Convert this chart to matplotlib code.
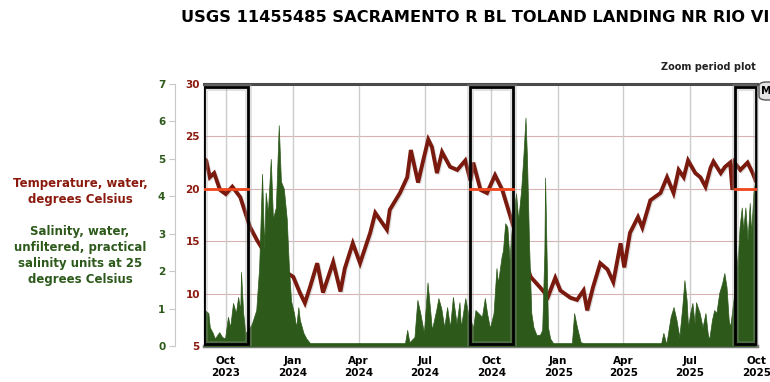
import numpy as np
import matplotlib
matplotlib.use('Agg')
import matplotlib.pyplot as plt
import matplotlib.dates as mdates
from matplotlib.patches import Rectangle, FancyBboxPatch
from matplotlib import patheffects as pe

# values, days counted from 2023-09-01
start = np.datetime64('2023-09-01')

temp_day = [0, 3, 8, 14, 22, 30, 39, 50, 57, 63, 73, 81, 91, 105, 114, 123, 132, 139, 146,
            156, 164, 178, 188, 194, 205, 215, 229, 236, 243, 252, 256, 270, 280, 285, 295,
            302, 309, 314, 321, 328, 339, 349, 360, 367, 371, 381, 390, 401, 411, 418, 425,
            433, 441, 450, 463, 474, 484, 491, 505, 514, 523, 528, 536, 546, 556, 564, 574,
            579, 587, 598, 604, 615, 629, 638, 647, 654, 661, 667, 677, 684, 691, 698, 702,
            712, 718, 725, 728, 731, 739, 749, 756, 760]
temp_val = [22.9, 22.7, 21.1, 21.5, 19.9, 19.5, 20.2, 19.2, 17.7, 16.4, 15.1, 14.2, 13.5,
            12.8, 12.0, 11.6, 10.1, 9.1, 10.6, 12.9, 10.1, 13.0, 10.2, 12.4, 14.8, 12.9,
            15.8, 17.7, 17.0, 16.1, 18.0, 19.6, 21.1, 23.7, 20.6, 22.7, 24.7, 24.0, 21.5,
            23.5, 22.1, 21.8, 22.7, 20.8, 22.5, 19.9, 19.6, 21.3, 19.9, 18.3, 16.7, 15.0,
            13.4, 11.6, 10.6, 9.7, 11.5, 10.3, 9.6, 9.4, 10.3, 8.4, 10.6, 12.9, 12.3, 11.1,
            14.8, 12.5, 15.8, 17.3, 16.3, 18.9, 19.6, 21.1, 19.6, 21.8, 21.1, 22.7, 21.5,
            21.1, 20.2, 22.0, 22.6, 21.5, 22.1, 22.5, 19.9, 22.5, 21.8, 22.5, 21.5, 20.8]

sal_day = [0, 1, 6, 8, 12, 15, 21, 25, 29, 33, 36, 40, 44, 47, 50, 51, 54, 57, 61, 66, 72,
           76, 80, 83, 85, 88, 92, 95, 99, 103, 106, 110, 114, 117, 120, 124, 127, 130, 132,
           137, 141, 146, 277, 280, 283, 290, 294, 298, 303, 308, 312, 314, 320, 323, 327,
           331, 335, 339, 343, 348, 352, 354, 360, 364, 367, 371, 374, 378, 383, 387, 390,
           394, 399, 403, 405, 410, 412, 415, 418, 421, 423, 426, 430, 433, 437, 440, 443,
           445, 448, 451, 454, 458, 463, 466, 469, 470, 472, 474, 477, 481, 507, 510, 514,
           519, 523, 630, 633, 637, 643, 647, 651, 655, 659, 662, 665, 667, 670, 673, 676,
           678, 683, 687, 691, 694, 696, 700, 703, 706, 710, 714, 717, 720, 723, 725, 730,
           732, 735, 738, 741, 743, 746, 749, 752, 754, 757, 760]
sal_val = [0.9, 0.96, 0.88, 0.5, 0.35, 0.2, 0.37, 0.24, 0.2, 0.78, 0.5, 1.15, 0.88, 1.31,
           0.96, 1.98, 0.88, 0.35, 0.43, 0.6, 0.96, 2.1, 4.6, 2.6, 4.1, 3.55, 5.0, 3.4, 3.7,
           5.9, 4.4, 4.2, 3.4, 2.1, 1.2, 0.88, 0.5, 1.04, 0.7, 0.35, 0.2, 0.08, 0.08, 0.43,
           0.1, 0.24, 1.23, 0.88, 0.35, 1.7, 0.88, 0.43, 0.96, 1.28, 1.0, 0.5, 1.04, 0.5,
           1.31, 0.6, 1.17, 0.5, 1.28, 0.88, 0.7, 0.5, 0.96, 0.88, 0.78, 1.28, 0.88, 0.48,
           0.88, 2.08, 1.68, 2.38, 2.56, 3.28, 3.18, 2.3, 2.9, 3.55, 4.08, 3.37, 4.17, 5.05,
           6.1, 5.05, 2.65, 0.88, 0.5, 0.3, 0.3, 0.43, 2.5, 4.5, 2.5, 0.5, 0.2, 0.08, 0.08,
           0.88, 0.5, 0.1, 0.08, 0.08, 0.35, 0.05, 0.78, 1.04, 0.7, 0.24, 1.04, 1.76, 1.23,
           0.5, 0.88, 1.15, 0.6, 1.17, 0.88, 0.5, 0.88, 0.35, 0.16, 0.7, 0.96, 0.88, 1.42,
           1.68, 1.95, 1.58, 0.7, 0.5, 1.31, 2.83, 2.1, 3.18, 3.7, 3.1, 3.7, 2.83, 3.82,
           3.0, 4.08, 4.5]

zoom_start = ['2023-09-01', '2024-09-01', '2025-09-01']
zoom_end = ['2023-10-31', '2024-10-31', '2025-10-01']
temp_ref = 20

quarters = ['2023-10-01', '2024-01-01', '2024-04-01', '2024-07-01', '2024-10-01',
            '2025-01-01', '2025-04-01', '2025-07-01', '2025-10-01']
quarter_labels = ['Oct\n2023', 'Jan\n2024', 'Apr\n2024', 'Jul\n2024', 'Oct\n2024',
                  'Jan\n2025', 'Apr\n2025', 'Jul\n2025', 'Oct\n2025']

temp_color = '#7a1a0e'
sal_color = '#2d5a1b'
ref_color = '#f0461c'

temp_dates = start + np.array(temp_day).astype('timedelta64[D]')
sal_dates = start + np.array(sal_day).astype('timedelta64[D]')

fig = plt.figure(figsize=(7.7, 3.82), dpi=100)
ax = fig.add_axes([204/770, 1-346/382, 553/770, 262/382])
ax.plot(temp_dates, temp_val, color=temp_color, lw=2.8, solid_joinstyle='miter',
        path_effects=[pe.SimpleLineShadow(offset=(0.8, -0.8), shadow_color='gray', alpha=0.25), pe.Normal()])
ax.set_ylim(5, 30)
ax.set_yticks([5, 10, 15, 20, 25, 30])
ax.tick_params(axis='y', length=0, pad=3, labelsize=7.5, labelcolor='#8b1a0e')
for t in ax.get_yticklabels():
    t.set_fontweight('bold')
ax.set_xticks(np.array(quarters, dtype='datetime64[D]'))
ax.set_xticklabels(quarter_labels, fontsize=7.5, fontweight='bold', linespacing=1.3)
ax.tick_params(axis='x', length=0, pad=7)
ax.grid(axis='x', color='#cccccc', lw=1)
for v in [10, 15, 20, 25]:
    ax.axhline(v, color='#d9b3b3', lw=0.8, zorder=0)
for s in ['left', 'right']:
    ax.spines[s].set_color('#888888')
    ax.spines[s].set_linewidth(1)
ax.spines['top'].set_color('#4a4a4a')
ax.spines['top'].set_linewidth(2.2)
ax.spines['bottom'].set_color('#777777')
ax.spines['bottom'].set_linewidth(2.5)

ax2 = ax.twinx()
ax2.fill_between(sal_dates, sal_val, 0, color=sal_color, lw=0.5, ec=sal_color)
for s in ['top', 'bottom', 'right']:
    ax2.spines[s].set_visible(False)
ax2.spines['left'].set_visible(True)
ax2.spines['left'].set_position(('axes', -29/553))
ax2.spines['left'].set_color('#c8c8c8')
ax2.yaxis.tick_left()
ax2.set_yticks(range(0, 8))
ax2.tick_params(axis='y', length=4, color='#c8c8c8', pad=3, labelsize=7.5, labelcolor=sal_color)
for t in ax2.get_yticklabels():
    t.set_fontweight('bold')

for z0, z1 in zip(zoom_start, zoom_end):
    d0 = mdates.date2num(np.datetime64(z0))
    d1 = mdates.date2num(np.datetime64(z1))
    ax2.plot([d0, d1], [temp_ref, temp_ref], transform=ax.transData, color=ref_color, lw=2)
    # soft halo, then the black frame
    ax2.add_patch(Rectangle((d0, 0.008), d1 - d0, 0.98, transform=ax2.get_xaxis_transform(),
                            fill=False, ec='#999999', lw=5, alpha=0.3))
    ax2.add_patch(Rectangle((d0, 0.008), d1 - d0, 0.98, transform=ax2.get_xaxis_transform(),
                            fill=False, ec='black', lw=2))
ax2.set_ylim(0, 7)
ax.set_xlim(np.datetime64('2023-09-01'), np.datetime64('2025-10-02'))

fig.text(181/770, 1-17/382, 'USGS 11455485 SACRAMENTO R BL TOLAND LANDING NR RIO VI',
         fontsize=11.7, fontweight='bold', ha='left', va='center')
fig.text(756/770, 1-67/382, 'Zoom period plot', fontsize=7, fontweight='bold',
         ha='right', va='center', color='#222222')
fig.text(80/770, 1-191/382, 'Temperature, water,\ndegrees Celsius', fontsize=8.5,
         fontweight='bold', ha='center', va='center', color='#8b1a0e', linespacing=1.3)
fig.text(80/770, 1-255/382, 'Salinity, water,\nunfiltered, practical\nsalinity units at 25\ndegrees Celsius',
         fontsize=8.5, fontweight='bold', ha='center', va='center', color=sal_color, linespacing=1.3)
btn = FancyBboxPatch((759/770, 1-100/382), 30/770, 18/382, boxstyle='round,pad=0,rounding_size=0.01',
                     transform=fig.transFigure, fc='#e4e4e4', ec='#555555', lw=1)
fig.patches.append(btn)
fig.text(761/770, 1-91/382, 'M', fontsize=7.5, fontweight='bold', ha='left', va='center')

fig.savefig('out.png', dpi=100)
